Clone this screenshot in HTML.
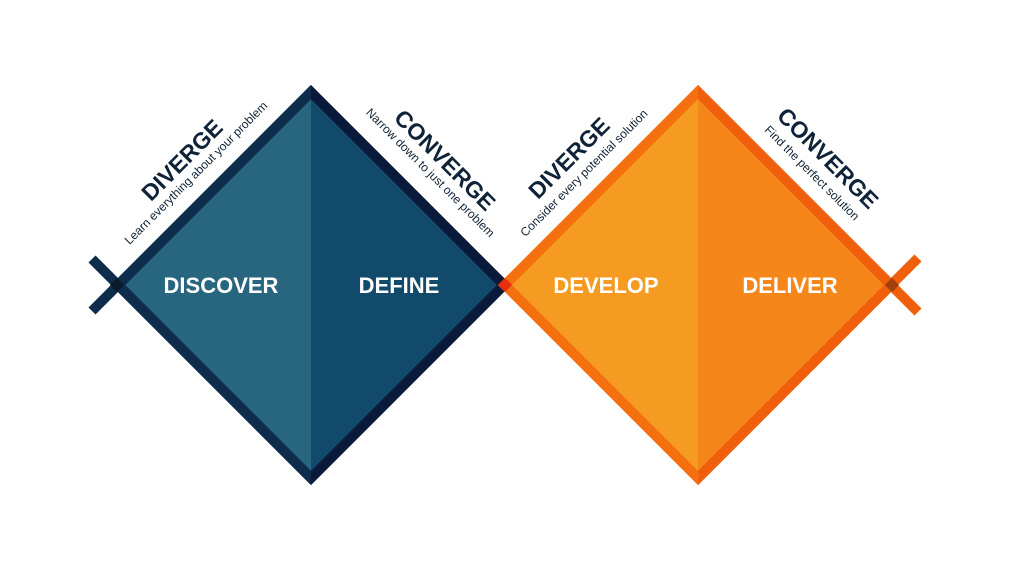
<!DOCTYPE html>
<html><head><style>body{margin:0;background:#fff}svg{display:block}</style></head>
<body>
<svg width="1023" height="580" viewBox="0 0 1023 580" xmlns="http://www.w3.org/2000/svg">
<defs>
<clipPath id="lh"><rect x="0" y="0" width="311" height="580"/></clipPath>
<clipPath id="rh"><rect x="698" y="0" width="400" height="580"/></clipPath>
</defs>
<rect width="1023" height="580" fill="#fff"/>
<polygon points="311,92 311,478 118,285" fill="#28657f"/>
<polygon points="311,92 504,285 311,478" fill="#114a6b"/>
<polygon points="698,92 698,478 505,285" fill="#f69b22"/>
<polygon points="698,92 891,285 698,478" fill="#f5861a"/>
<g stroke-width="10" stroke-linecap="butt">
<line x1="92" y1="311" x2="118" y2="285" stroke="#0e2c4b"/>
<line x1="92" y1="259" x2="118" y2="285" stroke="#0e2c4b"/>
<line x1="918" y1="312" x2="891" y2="285" stroke="#ef5f0c"/>
<line x1="918" y1="258" x2="891" y2="285" stroke="#ef5f0c"/>
</g>
<polygon points="311,92 504,285 311,478 118,285" fill="none" stroke="#0a1a3b" stroke-width="10" stroke-linejoin="miter"/>
<polygon points="311,92 504,285 311,478 118,285" fill="none" stroke="#0e2c4b" stroke-width="10" stroke-linejoin="miter" clip-path="url(#lh)"/>
<polygon points="698,92 891,285 698,478 505,285" fill="none" stroke="#f47010" stroke-width="10" stroke-linejoin="miter"/>
<polygon points="698,92 891,285 698,478 505,285" fill="none" stroke="#ef5f0c" stroke-width="10" stroke-linejoin="miter" clip-path="url(#rh)"/>
<rect x="500" y="280" width="10" height="10" transform="rotate(45 505 285)" fill="#e8300f"/>
<rect x="112" y="280" width="10" height="10" transform="rotate(45 117 285)" fill="#0b1a2a"/>
<rect x="887" y="280" width="10" height="10" transform="rotate(45 892 285)" fill="#a2400c"/>
<g font-family="Liberation Sans, sans-serif" font-weight="bold" fill="#fff" font-size="22" text-anchor="middle">
<text x="221" y="293">DISCOVER</text>
<text x="399" y="293">DEFINE</text>
<text x="606" y="293">DEVELOP</text>
<text x="790" y="293">DELIVER</text>
</g>
<g font-family="Liberation Sans, sans-serif" fill="#0f2338" text-anchor="middle">
<text x="182" y="168" font-size="23" font-weight="bold" transform="rotate(-45 182 160)">DIVERGE</text>
<text x="196" y="177" font-size="12" transform="rotate(-45 196 173)">Learn everything about your problem</text>
<text x="445" y="168" font-size="23" font-weight="bold" transform="rotate(45 445 160)">CONVERGE</text>
<text x="431" y="177" font-size="12" transform="rotate(45 431 172)">Narrow down to just one problem</text>
<text x="569" y="166" font-size="23" font-weight="bold" transform="rotate(-45 569 158)">DIVERGE</text>
<text x="584" y="177" font-size="12" transform="rotate(-45 584 173)">Consider every potential solution</text>
<text x="828" y="166" font-size="23" font-weight="bold" transform="rotate(45 828 158)">CONVERGE</text>
<text x="812" y="177" font-size="12" transform="rotate(45 812 173)">Find the perfect solution</text>
</g>
</svg>
</body></html>
